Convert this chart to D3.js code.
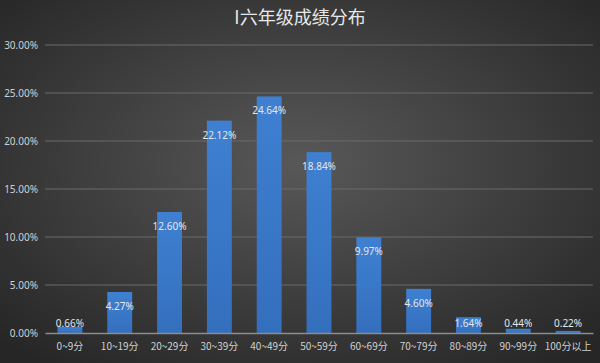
<!DOCTYPE html>
<html>
<head>
<meta charset="utf-8">
<script src="https://cdn.jsdelivr.net/npm/d3@7"></script>
<style>
  body { margin: 0; background: #333; }
  svg { display: block; font-family: "Microsoft YaHei", "Noto Sans CJK SC", sans-serif; }
</style>
</head>
<body>
<div id="chart"></div>
<script>
const title = "I六年级成绩分布";
const categories = ["0~9分", "10~19分", "20~29分", "30~39分", "40~49分", "50~59分",
  "60~69分", "70~79分", "80~89分", "90~99分", "100分以上"];
const shares = [0.66, 4.27, 12.60, 22.12, 24.64, 18.84, 9.97, 4.60, 1.64, 0.44, 0.22];
const yTicks = [0, 5, 10, 15, 20, 25, 30];

const width = 600, height = 363;
const margin = {top: 45, right: 7, bottom: 30, left: 45};

const svg = d3.select("#chart").append("svg")
  .attr("width", width).attr("height", height);

const defs = svg.append("defs");
const bg = defs.append("radialGradient").attr("id", "bg")
  .attr("cx", "50%").attr("cy", "45%").attr("r", "70%");
bg.append("stop").attr("offset", "0%").attr("stop-color", "#585858");
bg.append("stop").attr("offset", "100%").attr("stop-color", "#262626");

const barGrad = defs.append("linearGradient").attr("id", "bar")
  .attr("x1", 0).attr("y1", 0).attr("x2", 0).attr("y2", 1);
barGrad.append("stop").attr("offset", "0%").attr("stop-color", "#3f80d2");
barGrad.append("stop").attr("offset", "100%").attr("stop-color", "#346fbd");

svg.append("rect").attr("width", width).attr("height", height).attr("fill", "url(#bg)");

svg.append("text").text(title)
  .attr("x", width / 2).attr("y", 24)
  .attr("text-anchor", "middle")
  .attr("font-size", 18)
  .attr("fill", "#e8e8e8");

const x = d3.scaleBand().domain(categories)
  .range([margin.left, width - margin.right]).paddingInner(0.5).paddingOuter(0.25);
const y = d3.scaleLinear().domain([0, 30]).range([height - margin.bottom, margin.top]);

// gridlines
svg.append("g").selectAll("line")
  .data(yTicks.filter(d => d > 0)).enter().append("line")
  .attr("x1", margin.left).attr("x2", width - margin.right)
  .attr("y1", d => y(d)).attr("y2", d => y(d))
  .attr("stroke", "#6b6b6b").attr("stroke-width", 1);

// y labels
const yAxis = svg.append("g")
  .attr("transform", `translate(${margin.left}, 0)`)
  .call(d3.axisLeft(y).tickValues(yTicks).tickSize(0).tickPadding(7)
    .tickFormat(d => d.toFixed(2) + "%"));
yAxis.select(".domain").remove();
yAxis.selectAll("text").attr("fill", "#d0d0d0").attr("font-size", 10)
  .attr("font-family", "Noto Sans, sans-serif");

// bars
svg.append("g").selectAll("rect")
  .data(shares).enter().append("rect")
  .attr("x", (d, i) => x(categories[i]))
  .attr("width", x.bandwidth())
  .attr("y", d => y(d))
  .attr("height", d => y(0) - y(d))
  .attr("fill", "url(#bar)");

// x axis
const xAxis = svg.append("g")
  .attr("transform", `translate(0, ${y(0)})`)
  .call(d3.axisBottom(x).tickSize(0).tickPadding(10).tickSizeOuter(0));
xAxis.select(".domain").attr("stroke", "#8c8c8c").attr("stroke-width", 1.5);
xAxis.selectAll("text").attr("fill", "#d0d0d0").attr("font-size", 10)
  .attr("font-family", "Noto Sans CJK SC, sans-serif");

// data labels
svg.append("g").selectAll("text")
  .data(shares).enter().append("text")
  .attr("x", (d, i) => x(categories[i]) + x.bandwidth() / 2)
  .attr("y", d => Math.min(y(d) + 14, y(0) - 10) + 4)
  .attr("text-anchor", "middle")
  .attr("font-size", 10)
  .attr("font-family", "Noto Sans, sans-serif")
  .attr("fill", "#e6e6e6")
  .text(d => d.toFixed(2) + "%");
</script>
</body>
</html>
